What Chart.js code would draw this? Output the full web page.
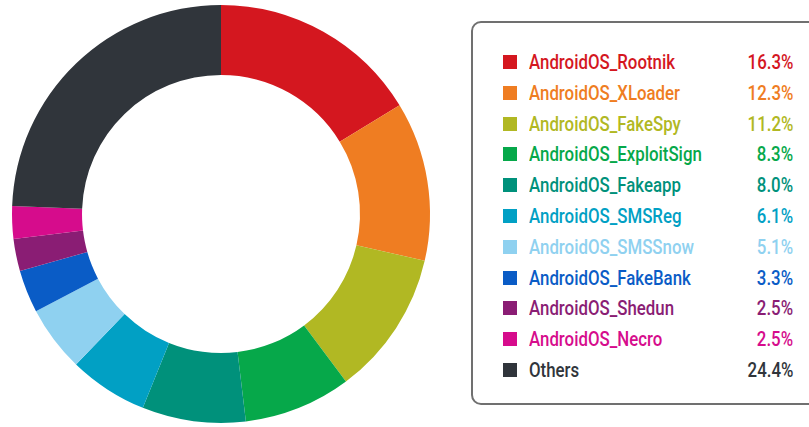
<!DOCTYPE html>
<html lang="en">
<head>
<meta charset="UTF-8">
<title>Android malware families</title>
<style>
    body {
        margin: 0;
        width: 809px;
        height: 427px;
        overflow: hidden;
        background: #fff;
        position: relative;
        font-family: "Roboto", "Liberation Sans", sans-serif;
    }
    #chartBox {
        position: absolute;
        left: 0;
        top: 0;
        width: 442px;
        height: 427px;
    }
    .legend-box {
        position: absolute;
        left: 471px;
        top: 21px;
        width: 360px;
        height: 380px;
        border: 2px solid #707070;
        border-radius: 10px;
    }
    .legend-row {
        position: absolute;
        left: 0;
        width: 320px;
        height: 30px;
        line-height: 30px;
        font-size: 20px;
        font-weight: 500;
    }
    .legend-row .sw {
        position: absolute;
        left: 30px;
        top: 8px;
        width: 14px;
        height: 14px;
    }
    .legend-row .name {
        position: absolute;
        left: 56px;
        transform-origin: left center;
        white-space: nowrap;
    }
    .legend-row .pct {
        position: absolute;
        right: 0;
        transform-origin: right center;
        white-space: nowrap;
    }
</style>
</head>
<body>
<div id="chartBox"><canvas id="malwareChart"></canvas></div>
<div class="legend-box" id="legend"></div>

<script src="https://cdn.jsdelivr.net/npm/chart.js"></script>
<script>
    const families = ["AndroidOS_Rootnik", "AndroidOS_XLoader", "AndroidOS_FakeSpy", "AndroidOS_ExploitSign",
        "AndroidOS_Fakeapp", "AndroidOS_SMSReg", "AndroidOS_SMSSnow", "AndroidOS_FakeBank",
        "AndroidOS_Shedun", "AndroidOS_Necro", "Others"];
    const shares = [16.3, 12.3, 11.2, 8.3, 8.0, 6.1, 5.1, 3.3, 2.5, 2.5, 24.4];
    const colors = ["#d4171f", "#ef7d22", "#b1b823", "#06a84a", "#00917b", "#01a0c4",
        "#8fd1f0", "#0a5cc6", "#8a1d74", "#d60c8c", "#30353b"];

    // legend built from the same arrays; text squeezed to look condensed
    const legend = document.getElementById("legend");
    const nameSpans = [];
    families.forEach(function (name, i) {
        const row = document.createElement("div");
        row.className = "legend-row";
        row.style.top = (24 + i * 30.8) + "px";
        row.style.color = colors[i];
        row.innerHTML = '<span class="sw" style="background:' + colors[i] + '"></span>' +
            '<span class="name">' + name + '</span>' +
            '<span class="pct">' + shares[i].toFixed(1) + '%</span>';
        legend.appendChild(row);
        nameSpans.push(row);
    });
    const firstName = nameSpans[0].querySelector(".name");
    const squeeze = 146 / firstName.getBoundingClientRect().width;
    document.querySelectorAll(".legend-row .name, .legend-row .pct").forEach(function (el) {
        el.style.transform = "scaleX(" + squeeze + ")";
    });

    const ctx = document.getElementById("malwareChart").getContext("2d");
    new Chart(ctx, {
        type: "doughnut",
        data: {
            labels: families,
            datasets: [{
                data: shares,
                backgroundColor: colors,
                borderWidth: 0,
                hoverBorderWidth: 0,
                offset: 0,
                hoverOffset: 0
            }]
        },
        options: {
            responsive: true,
            maintainAspectRatio: false,
            animation: false,
            cutout: "66.5%",
            layout: { padding: { top: 5, bottom: 4, left: 0, right: 0 } },
            events: [],
            plugins: {
                legend: { display: false },
                tooltip: { enabled: false }
            }
        }
    });
</script>
</body>
</html>
